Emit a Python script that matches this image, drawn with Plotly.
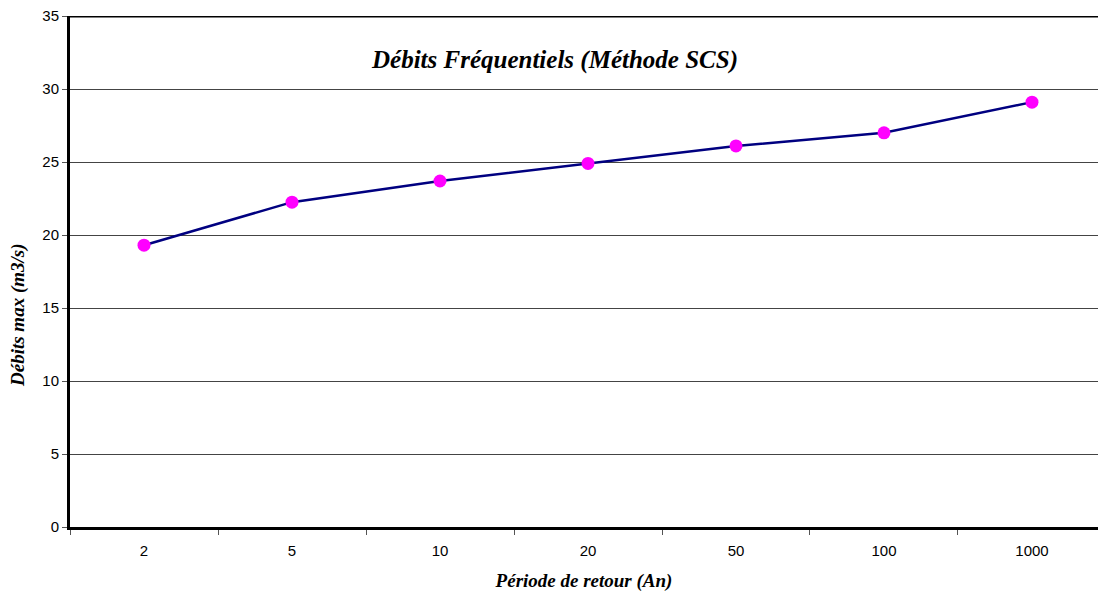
import plotly.graph_objects as go

periods = ["2", "5", "10", "20", "50", "100", "1000"]
debits = [19.3, 22.25, 23.7, 24.9, 26.1, 27.0, 29.1]
y_ticks = [0, 5, 10, 15, 20, 25, 30, 35]

fig = go.Figure()
fig.add_trace(go.Scatter(
    x=periods, y=debits, mode="lines+markers",
    line=dict(color="#000080", width=2.5),
    marker=dict(color="#FF00FF", size=13),
    cliponaxis=False, showlegend=False,
))

serif = "Liberation Serif, Times New Roman"
fig.update_layout(
    width=1098, height=595,
    margin=dict(l=70, r=0, t=16, b=68),
    paper_bgcolor="white", plot_bgcolor="white",
    font=dict(family="Liberation Sans, Arial", size=12, color="black"),
    annotations=[
        dict(text="<b><i>Débits Fréquentiels (Méthode SCS)</i></b>",
             x=(554 - 70) / 1028, y=(527 - 60) / 511, xref="paper", yref="paper",
             showarrow=False, xanchor="center", yanchor="middle",
             font=dict(family=serif, size=25)),
        dict(text="<b><i>Débits max (m3/s)</i></b>", textangle=-90,
             x=(18 - 70) / 1028, y=(527 - 315) / 511, xref="paper", yref="paper",
             showarrow=False, xanchor="center", yanchor="middle",
             font=dict(family=serif, size=19)),
    ],
    shapes=[
        dict(type="line", xref="paper", yref="y", x0=0, x1=1, y0=35, y1=35,
             line=dict(color="black", width=3)),
    ],
)

fig.update_xaxes(
    type="category", range=[-0.5, 6.446],
    showline=True, linecolor="black", linewidth=3,
    ticks="outside", tickson="boundaries", ticklen=5, tickcolor="#555",
    ticklabelstandoff=8,
    showgrid=False, zeroline=False,
    tickfont=dict(family="Liberation Sans, Arial", size=15),
    title=dict(text="<b><i>Période de retour (An)</i></b>", standoff=16,
               font=dict(family=serif, size=19)),
)
fig.update_yaxes(
    range=[0, 35], tickvals=y_ticks,
    showline=True, linecolor="black", linewidth=3,
    ticks="outside", ticklen=5, tickcolor="#555",
    showgrid=True, gridcolor="#444", gridwidth=1, zeroline=False,
    tickfont=dict(family="Liberation Sans, Arial", size=15),
)

fig.write_html("out.html")
